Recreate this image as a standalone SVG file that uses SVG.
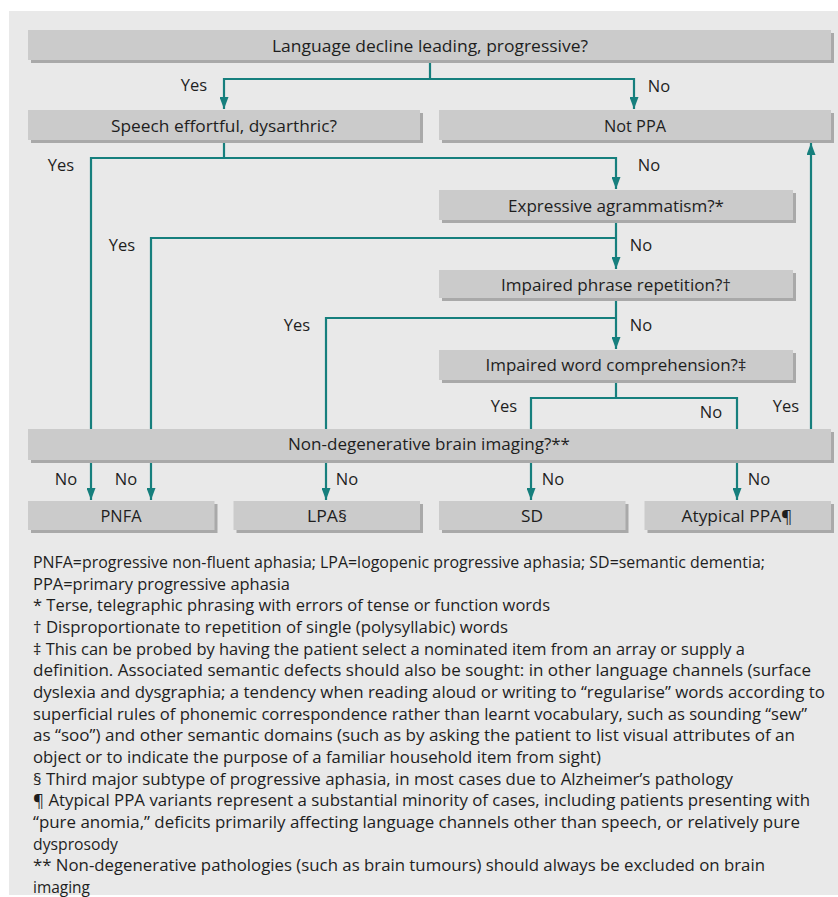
<svg xmlns="http://www.w3.org/2000/svg" width="838" height="897" viewBox="0 0 838 897">
<style>
text{font-family:"Open Sans","Noto Sans","DejaVu Sans",sans-serif;font-size:16.5px;fill:#1e1e1e}
.c{text-anchor:middle}
.box{fill:#cbcbcb}
.sh{fill:#a9a9a9}
.ln{fill:none;stroke:#167f7d;stroke-width:2.2}
</style>
<defs>
<marker id="ah" markerUnits="userSpaceOnUse" markerWidth="12" markerHeight="9" refX="12" refY="4.5" orient="auto">
<path d="M0,0 L12,4.5 L0,9 z" fill="#167f7d"/>
</marker>
</defs>
<rect x="0" y="0" width="838" height="897" fill="#ffffff"/>
<rect x="9" y="11" width="829" height="884" fill="#e9e9e9"/>

<g id="connectors">
<path class="ln" d="M430,60 V79 H224 V109" marker-end="url(#ah)"/>
<path class="ln" d="M430,79 H634 V109" marker-end="url(#ah)"/>
<path class="ln" d="M224,140 V158 H616 V189" marker-end="url(#ah)"/>
<path class="ln" d="M224,158 H91 V429"/>
<path class="ln" d="M91,460 V500" marker-end="url(#ah)"/>
<path class="ln" d="M616,220 V269" marker-end="url(#ah)"/>
<path class="ln" d="M616,238 H151 V429"/>
<path class="ln" d="M151,460 V500" marker-end="url(#ah)"/>
<path class="ln" d="M616,298 V349" marker-end="url(#ah)"/>
<path class="ln" d="M616,318 H326 V429"/>
<path class="ln" d="M326,460 V500" marker-end="url(#ah)"/>
<path class="ln" d="M616,380 V398 H531 V429"/>
<path class="ln" d="M616,398 H737 V429"/>
<path class="ln" d="M531,460 V500" marker-end="url(#ah)"/>
<path class="ln" d="M737,460 V500" marker-end="url(#ah)"/>
<path class="ln" d="M811,429 V143" marker-end="url(#ah)"/>
<text x="194" y="91" class="c">Yes</text>
<text x="659" y="92" class="c">No</text>
<text x="61" y="171" class="c">Yes</text>
<text x="649" y="171" class="c">No</text>
<text x="122" y="251" class="c">Yes</text>
<text x="641" y="251" class="c">No</text>
<text x="297" y="331" class="c">Yes</text>
<text x="641" y="331" class="c">No</text>
<text x="504" y="412" class="c">Yes</text>
<text x="711" y="418" class="c">No</text>
<text x="786" y="412" class="c">Yes</text>
<text x="66" y="485" class="c">No</text>
<text x="126" y="485" class="c">No</text>
<text x="347" y="485" class="c">No</text>
<text x="553" y="485" class="c">No</text>
<text x="759" y="485" class="c">No</text>
</g>

<g id="n-language">
<rect class="sh" x="31" y="33" width="803" height="30"/>
<rect class="box" x="28" y="30" width="803" height="30"/>
<text x="430" y="52" class="c" textLength="316" lengthAdjust="spacingAndGlyphs">Language decline leading, progressive?</text>
</g>
<g id="n-speech">
<rect class="sh" x="31" y="113" width="392" height="30"/>
<rect class="box" x="28" y="110" width="392" height="30"/>
<text x="224" y="132" class="c" textLength="226" lengthAdjust="spacingAndGlyphs">Speech effortful, dysarthric?</text>
</g>
<g id="n-notppa">
<rect class="sh" x="442" y="113" width="392" height="30"/>
<rect class="box" x="439" y="110" width="392" height="30"/>
<text x="635" y="132" class="c" textLength="62" lengthAdjust="spacingAndGlyphs">Not PPA</text>
</g>
<g id="n-expressive">
<rect class="sh" x="442" y="193" width="354" height="30"/>
<rect class="box" x="439" y="190" width="354" height="30"/>
<text x="616" y="212" class="c" textLength="216" lengthAdjust="spacingAndGlyphs">Expressive agrammatism?*</text>
</g>
<g id="n-phrase">
<rect class="sh" x="442" y="273" width="354" height="28"/>
<rect class="box" x="439" y="270" width="354" height="28"/>
<text x="616" y="291" class="c" textLength="230" lengthAdjust="spacingAndGlyphs">Impaired phrase repetition?†</text>
</g>
<g id="n-word">
<rect class="sh" x="442" y="353" width="354" height="30"/>
<rect class="box" x="439" y="350" width="354" height="30"/>
<text x="616" y="371" class="c" textLength="261" lengthAdjust="spacingAndGlyphs">Impaired word comprehension?‡</text>
</g>
<g id="n-nondegen">
<rect class="sh" x="31" y="432" width="803" height="31"/>
<rect class="box" x="28" y="429" width="803" height="31"/>
<text x="429" y="450" class="c" textLength="282" lengthAdjust="spacingAndGlyphs">Non-degenerative brain imaging?**</text>
</g>
<g id="n-pnfa">
<rect class="sh" x="31" y="504" width="186.5" height="29"/>
<rect class="box" x="28" y="501" width="186.5" height="29"/>
<text x="121" y="522" class="c" textLength="41" lengthAdjust="spacingAndGlyphs">PNFA</text>
</g>
<g id="n-lpa">
<rect class="sh" x="236.5" y="504" width="186.5" height="29"/>
<rect class="box" x="233.5" y="501" width="186.5" height="29"/>
<text x="327" y="522" class="c" textLength="40" lengthAdjust="spacingAndGlyphs">LPA§</text>
</g>
<g id="n-sd">
<rect class="sh" x="442" y="504" width="186.5" height="29"/>
<rect class="box" x="439" y="501" width="186.5" height="29"/>
<text x="532" y="522" class="c" textLength="22" lengthAdjust="spacingAndGlyphs">SD</text>
</g>
<g id="n-atypical">
<rect class="sh" x="647.5" y="504" width="186.5" height="29"/>
<rect class="box" x="644.5" y="501" width="186.5" height="29"/>
<text x="737" y="522" class="c" textLength="111" lengthAdjust="spacingAndGlyphs">Atypical PPA¶</text>
</g>

<g id="footnotes">
<text x="33" y="568" textLength="732" lengthAdjust="spacingAndGlyphs">PNFA=progressive non-fluent aphasia; LPA=logopenic progressive aphasia; SD=semantic dementia;</text>
<text x="33" y="589.7" textLength="257" lengthAdjust="spacingAndGlyphs">PPA=primary progressive aphasia</text>
<text x="33" y="611.3" textLength="517" lengthAdjust="spacingAndGlyphs">* Terse, telegraphic phrasing with errors of tense or function words</text>
<text x="33" y="633" textLength="475" lengthAdjust="spacingAndGlyphs">† Disproportionate to repetition of single (polysyllabic) words</text>
<text x="33" y="654.7" textLength="712" lengthAdjust="spacingAndGlyphs">‡ This can be probed by having the patient select a nominated item from an array or supply a</text>
<text x="33" y="676.3" textLength="778" lengthAdjust="spacingAndGlyphs">definition. Associated semantic defects should also be sought: in other language channels (surface</text>
<text x="33" y="698" textLength="792" lengthAdjust="spacingAndGlyphs">dyslexia and dysgraphia; a tendency when reading aloud or writing to “regularise” words according to</text>
<text x="33" y="719.7" textLength="774" lengthAdjust="spacingAndGlyphs">superficial rules of phonemic correspondence rather than learnt vocabulary, such as sounding “sew”</text>
<text x="33" y="741.3" textLength="762" lengthAdjust="spacingAndGlyphs">as “soo”) and other semantic domains (such as by asking the patient to list visual attributes of an</text>
<text x="33" y="763" textLength="568" lengthAdjust="spacingAndGlyphs">object or to indicate the purpose of a familiar household item from sight)</text>
<text x="33" y="784.7" textLength="700" lengthAdjust="spacingAndGlyphs">§ Third major subtype of progressive aphasia, in most cases due to Alzheimer’s pathology</text>
<text x="33" y="806.3" textLength="777" lengthAdjust="spacingAndGlyphs">¶ Atypical PPA variants represent a substantial minority of cases, including patients presenting with</text>
<text x="33" y="828" textLength="767" lengthAdjust="spacingAndGlyphs">“pure anomia,” deficits primarily affecting language channels other than speech, or relatively pure</text>
<text x="33" y="849.7" textLength="85" lengthAdjust="spacingAndGlyphs">dysprosody</text>
<text x="33" y="871.3" textLength="732" lengthAdjust="spacingAndGlyphs">** Non-degenerative pathologies (such as brain tumours) should always be excluded on brain</text>
<text x="33" y="893" textLength="57" lengthAdjust="spacingAndGlyphs">imaging</text>
</g>
</svg>
